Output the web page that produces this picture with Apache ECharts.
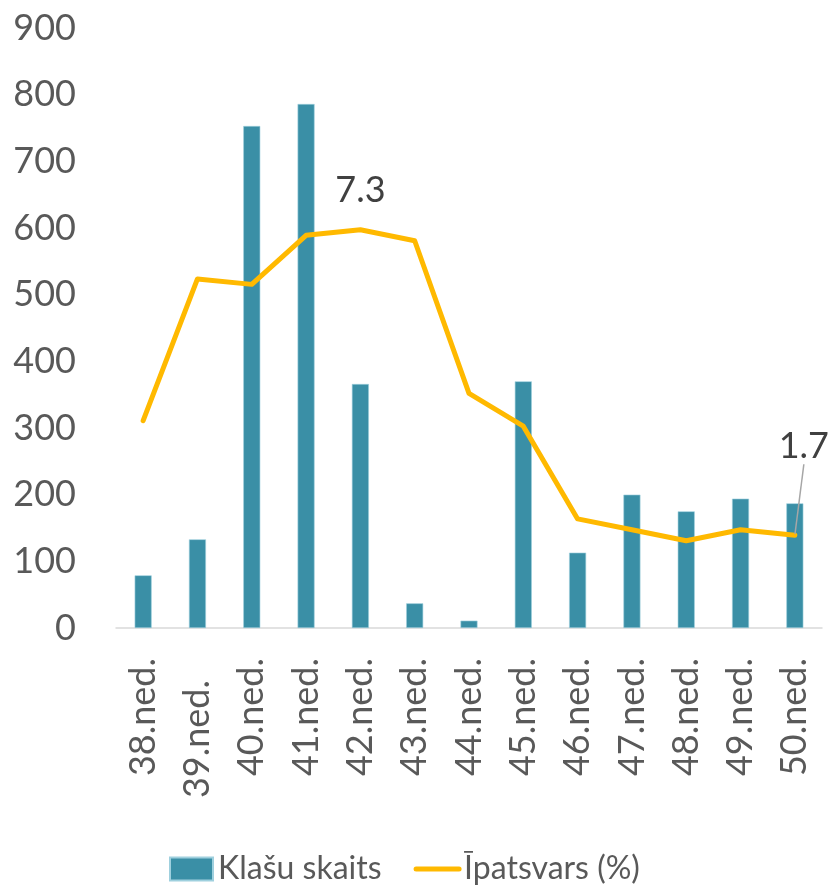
<!DOCTYPE html>
<html>
<head>
<meta charset="utf-8">
<script src="https://cdn.jsdelivr.net/npm/echarts@6/dist/echarts.min.js"></script>
<style>html,body{margin:0;padding:0;background:#fff;}#c{width:830px;height:887px;}</style>
</head>
<body>
<div id="c"></div>
<script>
const categories = ['38.ned.','39.ned.','40.ned.','41.ned.','42.ned.','43.ned.','44.ned.','45.ned.','46.ned.','47.ned.','48.ned.','49.ned.','50.ned.'];
const classCounts = [79, 133, 753, 786, 366, 37, 11, 370, 113, 200, 175, 194, 187];
const sharePct = [3.8, 6.4, 6.3, 7.2, 7.3, 7.1, 4.3, 3.7, 2.0, 1.8, 1.6, 1.8, 1.7];
const yTicks = [0, 100, 200, 300, 400, 500, 600, 700, 800, 900];
const labeledIdx = [4, 12];
const leaderIdx = 12;
const shiftedTickIdx = 1;

const FONT = 'Lato';
const chart = echarts.init(document.getElementById('c'));
chart.setOption({
  animation: false,
  textStyle: { fontFamily: FONT },
  grid: { left: 116, right: 8, top: 28, bottom: 259, containLabel: false },
  legend: {
    top: 848,
    left: 164,
    itemWidth: 43,
    itemHeight: 23,
    itemGap: 32,
    textStyle: { fontFamily: FONT, fontSize: 32, color: '#595959' },
    data: [
      { name: 'Klašu skaits', icon: 'rect' },
      { name: 'Īpatsvars (%)', itemStyle: { opacity: 0 }, lineStyle: { width: 5, cap: 'round' } }
    ]
  },
  xAxis: {
    type: 'category',
    data: categories,
    axisTick: { show: false },
    axisLine: { lineStyle: { color: '#d9d9d9', width: 1.5 } },
    axisLabel: {
      rotate: 90, margin: 30, fontSize: 36, color: '#595959', fontFamily: FONT, interval: 0,
      formatter: (v, i) => i === shiftedTickIdx ? '{s|' + v + '}' : v,
      rich: { s: { padding: [0, 22, 0, 0], fontSize: 36, color: '#595959', fontFamily: FONT } }
    }
  },
  yAxis: [
    {
      type: 'value', min: yTicks[0], max: yTicks[yTicks.length - 1], interval: 100,
      axisLine: { show: false }, axisTick: { show: false }, splitLine: { show: false },
      axisLabel: { margin: 40, fontSize: 36, color: '#595959', fontFamily: FONT }
    },
    { type: 'value', min: 0, max: 11, show: false, splitLine: { show: false } }
  ],
  series: [
    {
      name: 'Klašu skaits', type: 'bar', data: classCounts, barWidth: 17,
      itemStyle: { color: '#3A8FA6', borderColor: '#9fd0de', borderWidth: 0.6 }
    },
    {
      name: 'Īpatsvars (%)', type: 'line', yAxisIndex: 1,
      symbol: 'circle', symbolSize: 2, showSymbol: true, showAllSymbol: true,
      lineStyle: { color: '#FFB900', width: 5, cap: 'round', join: 'round' },
      itemStyle: { color: '#FFB900' },
      data: sharePct.map((v, i) => labeledIdx.includes(i)
        ? {
            value: v,
            label: { show: true, position: 'top', distance: 20, fontSize: 36, color: '#404040', fontFamily: FONT },
            labelLine: { show: i === leaderIdx, length2: 0, lineStyle: { color: '#a6a6a6', width: 1.5 } }
          }
        : v),
      labelLine: { show: false },
      labelLayout: function (p) {
        if (p.dataIndex === leaderIdx) return { dx: 9, dy: -50 };
        return {};
      }
    }
  ]
});
</script>
</body>
</html>
